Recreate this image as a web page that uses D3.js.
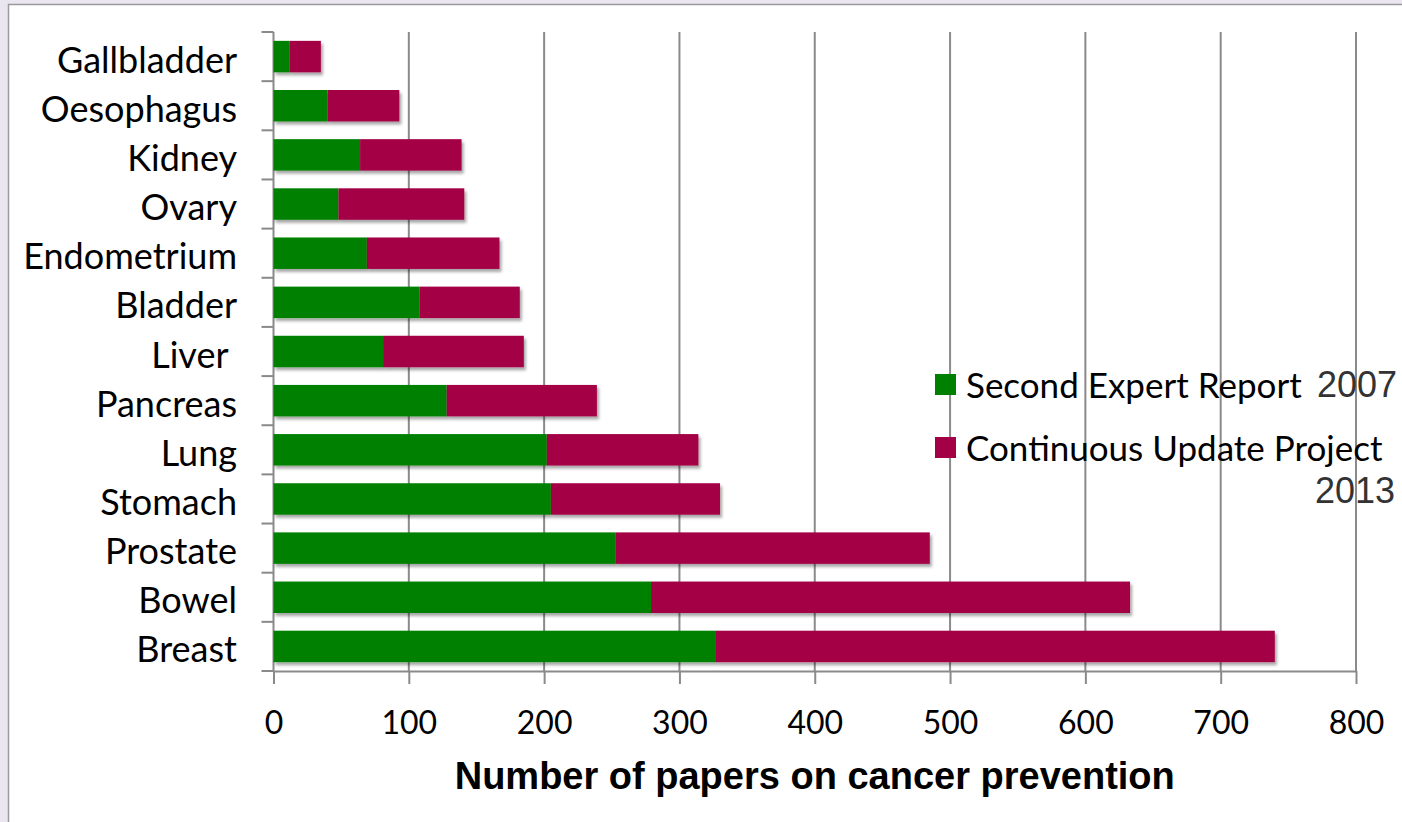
<!DOCTYPE html>
<html>
<head>
<meta charset="utf-8">
<script src="https://cdn.jsdelivr.net/npm/d3@7"></script>
<style>
  html, body { margin: 0; padding: 0; background: #eae6f0; }
  svg { display: block; }
  .cat { font-family: Lato, "Open Sans", sans-serif; font-size: 36px; fill: #000; white-space: pre; }
  .tick-label { font-family: Lato, "Open Sans", sans-serif; font-size: 32px; fill: #000; }
  .legend-text { font-family: Lato, "Open Sans", sans-serif; font-size: 35px; fill: #000; }
  .year { font-family: "Liberation Sans", Arial, sans-serif; font-size: 36px; fill: #333; }
  .title { font-family: "Liberation Sans", Arial, sans-serif; font-size: 38px; font-weight: bold; fill: #000; }
</style>
</head>
<body>
<svg id="chart" width="1402" height="822"></svg>
<script>
// Cancer sites, top to bottom
const categories = ["Gallbladder", "Oesophagus", "Kidney", "Ovary", "Endometrium", "Bladder",
  "Liver ", "Pancreas", "Lung", "Stomach", "Prostate", "Bowel", "Breast"];

// Papers counted in the Second Expert Report (2007)
const secondExpertReport = [12, 40, 64, 48, 69, 108, 81, 128, 202, 205, 253, 279, 327];

// Additional papers added by the Continuous Update Project (2013)
const continuousUpdate = [23, 53, 75, 93, 98, 74, 104, 111, 112, 125, 232, 354, 413];

const xTicks = [0, 100, 200, 300, 400, 500, 600, 700, 800];
const seriesNames = ["Second Expert Report", "Continuous Update Project"];
const seriesKeys = ["ser", "cup"];
const colors = ["#008000", "#a40045"];

const svg = d3.select("#chart");
const W = 1402, H = 822;
const plot = { left: 273.5, right: 1356, top: 32, bottom: 671 };

// White chart area with a thin frame
svg.append("rect")
  .attr("x", 8.5).attr("y", 4.5)
  .attr("width", W).attr("height", H)
  .attr("fill", "#fff").attr("stroke", "#9a9a9a").attr("stroke-width", 1.5);

// Soft drop shadow used by the bars
const defs = svg.append("defs");
const f = defs.append("filter").attr("id", "shadow")
  .attr("x", "-5%").attr("y", "-20%").attr("width", "115%").attr("height", "160%");
f.append("feDropShadow").attr("dx", 2).attr("dy", 3).attr("stdDeviation", 1.8)
  .attr("flood-color", "#000").attr("flood-opacity", 0.35);

const data = categories.map((c, i) => ({ cat: c, ser: secondExpertReport[i], cup: continuousUpdate[i] }));

const x = d3.scaleLinear().domain([0, 800]).range([plot.left, plot.right]);
const pad = 0.36;
const y = d3.scaleBand().domain(categories).range([plot.top, plot.bottom])
  .paddingInner(pad).paddingOuter(pad / 2);

// Vertical gridlines
svg.append("g").selectAll("line")
  .data(xTicks.filter(t => t > 0))
  .join("line")
  .attr("x1", d => x(d)).attr("x2", d => x(d))
  .attr("y1", plot.top).attr("y2", plot.bottom)
  .attr("stroke", "#8a8a8a").attr("stroke-width", 2);

// X axis
const xAxis = svg.append("g")
  .attr("transform", `translate(0,${plot.bottom})`)
  .call(d3.axisBottom(x).tickValues(xTicks).tickSize(13).tickPadding(10).tickSizeOuter(0));
xAxis.select(".domain").attr("stroke", "#8a8a8a").attr("stroke-width", 2);
xAxis.selectAll(".tick line").attr("stroke", "#8a8a8a").attr("stroke-width", 2);
xAxis.selectAll(".tick text").attr("class", "tick-label").attr("font-family", null).attr("font-size", null)
  .attr("y", 0).attr("dy", null).attr("transform", "translate(0,63)");

// Y axis line and category boundary ticks
svg.append("line")
  .attr("x1", plot.left).attr("x2", plot.left)
  .attr("y1", plot.top).attr("y2", plot.bottom)
  .attr("stroke", "#8a8a8a").attr("stroke-width", 2);
svg.append("g").selectAll("line")
  .data(d3.range(categories.length + 1))
  .join("line")
  .attr("x1", plot.left - 12).attr("x2", plot.left)
  .attr("y1", i => plot.top + i * y.step()).attr("y2", i => plot.top + i * y.step())
  .attr("stroke", "#8a8a8a").attr("stroke-width", 2);

// Category labels
svg.append("g").selectAll("text")
  .data(categories)
  .join("text")
  .attr("class", "cat")
  .attr("x", 237)
  .attr("y", d => y(d) + y.bandwidth() / 2 + 16)
  .attr("text-anchor", "end")
  .text(d => d);

// Stacked bars
const stacked = d3.stack().keys(seriesKeys)(data);
const barG = svg.append("g");
stacked.forEach((layer, li) => {
  barG.append("g").attr("filter", "url(#shadow)").selectAll("rect")
    .data(layer)
    .join("rect")
    .attr("x", d => x(d[0]))
    .attr("y", d => y(d.data.cat))
    .attr("width", d => x(d[1]) - x(d[0]))
    .attr("height", y.bandwidth())
    .attr("fill", colors[li]);
});

// Legend
const legend = svg.append("g");
const legendY = [374, 437];
seriesNames.forEach((name, i) => {
  legend.append("rect")
    .attr("x", 935).attr("y", legendY[i])
    .attr("width", 21).attr("height", 21)
    .attr("fill", colors[i]);
  legend.append("text")
    .attr("class", "legend-text")
    .attr("x", 966).attr("y", legendY[i] + 24)
    .text(name);
});
legend.append("text").attr("class", "year").attr("x", 1397).attr("y", 397)
  .attr("text-anchor", "end").text("2007");
legend.append("text").attr("class", "year").attr("x", 1395).attr("y", 503)
  .attr("text-anchor", "end").text("2013");

// Axis title
svg.append("text")
  .attr("class", "title")
  .attr("x", (plot.left + plot.right) / 2)
  .attr("y", 789)
  .attr("text-anchor", "middle")
  .text("Number of papers on cancer prevention");
</script>
</body>
</html>
